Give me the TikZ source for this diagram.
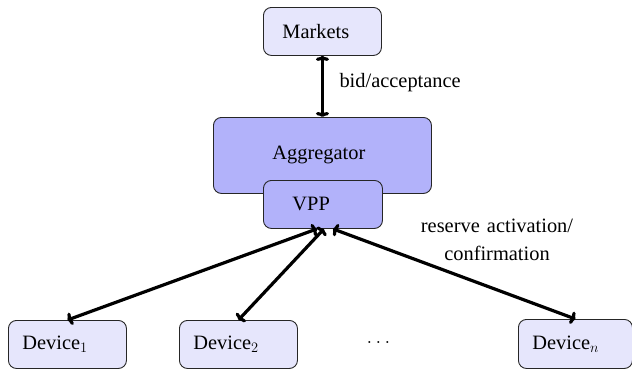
\documentclass[tikz,border=0pt]{standalone}
\usepackage{fontspec}
\setmainfont{Liberation Serif}
\usetikzlibrary{arrows.meta}
\definecolor{boxlight}{RGB}{230,230,252}
\definecolor{boxdark}{RGB}{178,178,250}
\tikzset{
  unit/.style={draw=black!85, line width=0.9pt, rounded corners=8pt, fill=boxlight,
    align=left, anchor=north west, font=\fontsize{20.4}{24}\selectfont},
  darkunit/.style={unit, fill=boxdark},
  link/.style={line width=3.2pt, {To[length=5pt,width=13pt]}-{To[length=5pt,width=13pt]}},
  note/.style={font=\fontsize{20.4}{28}\selectfont}
}
\begin{document}
\begin{tikzpicture}[x=1pt,y=-1pt]
  \useasboundingbox (0,0) rectangle (632,370);
  % boxes: inner xsep = left padding, text width = width - 2*padding
  \node[unit, inner xsep=19pt, text width=80pt, minimum height=48pt] (markets) at (263,7) {Markets};
  \node[darkunit, inner xsep=59pt, text width=100pt, minimum height=76pt] (agg) at (213,117) {Aggregator\\[26pt]};
  \node[darkunit, inner xsep=29pt, text width=61pt, minimum height=48pt] (vpp) at (263,180) {VPP};
  \node[unit, inner xsep=14pt, text width=90pt, minimum height=48pt] (dev1) at (8,320) {Device$_1$};
  \node[unit, inner xsep=14pt, text width=90pt, minimum height=48pt] (dev2) at (179,320) {Device$_2$};
  \node[unit, inner xsep=14pt, text width=86pt, minimum height=49pt] (devn) at (518,319) {Device$_n$};
  \node[note, anchor=base] (dots) at (378.5,343) {$\ldots$};
  % connectors
  \draw[link] (markets.south) -- (agg.north);
  \draw[link] ([xshift=-6pt]vpp.south) -- (dev1.north);
  \draw[link] ([xshift=1pt]vpp.south) -- (dev2.north);
  \draw[link] ([xshift=10pt]vpp.south) -- (devn.north);
  % labels
  \node[note, anchor=west] (bidlbl) at (336,83) {bid/acceptance};
  \node[note, align=center] (reslbl) at (497,240) {reserve\hspace{0.35em}activation/\\confirmation};
\end{tikzpicture}
\end{document}
